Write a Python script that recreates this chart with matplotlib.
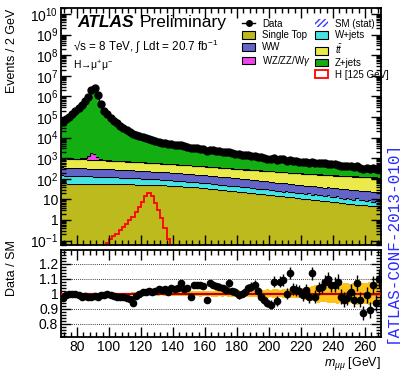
import numpy as np
import matplotlib
matplotlib.use("Agg")
import matplotlib.pyplot as plt
from matplotlib.patches import Patch
from matplotlib.lines import Line2D
from matplotlib.ticker import FixedLocator, MultipleLocator, LogLocator, NullFormatter, FixedFormatter

plt.rcParams['font.family'] = ['Liberation Sans', 'DejaVu Sans']
plt.rcParams['mathtext.fontset'] = 'custom'
plt.rcParams['mathtext.rm'] = 'Liberation Sans'
plt.rcParams['mathtext.it'] = 'Liberation Sans:italic'
plt.rcParams['mathtext.bf'] = 'Liberation Sans:bold'

# 2 GeV bins from 70 to 270 GeV
edges = np.arange(70, 272, 2)
centers = 0.5 * (edges[:-1] + edges[1:])

# background estimates per bin (events / 2 GeV), stacked bottom -> top
single_top = [60, 60, 59, 59, 59, 58, 58, 58, 57, 57, 57, 56, 56, 56, 55,
              55, 55, 54, 54, 54, 53, 53, 53, 52, 52, 51, 51, 51, 50, 50,
              50, 49, 48, 47, 46, 45, 44, 43, 42, 41, 40, 39, 38, 37, 36,
              35, 33.7, 32.5, 31.3, 30.1, 29, 28, 27, 26, 25, 24, 23.2, 22.3, 21.5, 20.7,
              20, 19.2, 18.5, 17.7, 17, 16.4, 15.8, 15.2, 14.6, 14, 13.5, 12.9, 12.4, 11.9, 11.5,
              11, 10.6, 10.2, 9.8, 9.4, 9.0, 8.6, 8.3, 8.0, 7.7, 7.4, 7.1, 6.8, 6.5, 6.3,
              6, 5.8, 5.6, 5.5, 5.3, 5.2, 5.0, 4.8, 4.7, 4.5]
wjets = [86, 84, 85, 81, 80, 79, 77, 76, 74, 73, 71, 70, 68, 67, 66,
         65, 63, 64, 60, 59, 58, 56, 55, 53, 52, 51, 49, 48, 46, 46,
         45, 43, 42, 40, 41, 37, 36, 35, 33, 32, 31, 30, 29, 28, 28,
         27, 26, 24, 25, 22, 21, 22, 20, 19, 18, 19, 17, 16, 17, 16,
         16, 14, 15, 13, 14, 12, 13, 11, 12, 10, 11, 9.5, 11, 9, 10,
         9, 8, 9.5, 7, 8, 6.5, 8, 6, 7.5, 6, 5, 7, 5.5, 4.5, 6,
         5, 4, 5.5, 3.5, 4, 3, 4.5, 2.5, 3.5, 2.5]
ww = [209, 206, 203, 200, 197, 194, 191, 188, 185, 182, 179, 177, 175, 172, 171,
      170, 166, 163, 160, 157, 154, 151, 148, 145, 142, 139, 136, 133, 130, 127,
      125, 122, 119, 117, 114, 112, 109, 107, 104, 102, 100, 97, 95, 92, 90,
      88, 85, 82, 80, 77, 75, 72, 70, 68, 66, 63, 61, 59, 57, 55,
      54, 51, 49, 47, 45, 43, 41, 40, 38, 36, 35, 33, 32, 30, 29,
      28, 27, 26.5, 26, 25, 24.5, 24, 23, 22.5, 22, 21.5, 21, 20, 19.5, 19,
      19, 18.5, 18, 17.5, 17, 16.5, 16, 15.5, 15.5, 15]
ttbar = [645, 631, 618, 605, 592, 580, 568, 556, 544, 532, 521, 510, 499, 489, 479,
         470, 460, 450, 441, 432, 422, 413, 404, 396, 387, 379, 371, 363, 356, 348,
         340, 333, 326, 318, 311, 305, 298, 291, 285, 279, 273, 267, 261, 256, 250,
         240, 235, 230, 225, 220, 215, 211, 207, 202, 198, 194, 190, 186, 182, 178,
         175, 172, 169, 166, 163, 160, 157, 154, 151, 148, 145, 142, 140, 137, 134,
         132, 129, 127, 125, 122, 120, 118, 116, 114, 112, 110, 108, 106, 104, 102,
         100, 99, 98, 97, 96, 95, 94, 93, 91, 90]
diboson = [20, 22, 25, 30, 40, 50, 90, 200, 450, 900, 800, 350, 130, 60, 35,
           28, 26, 25, 24, 23, 22, 21, 20, 19, 18, 17, 17, 16, 16, 15,
           15, 14, 14, 13, 13, 12, 12, 12, 11, 11, 11, 10, 10, 10, 9.5,
           9.5, 9, 9, 8.5, 8.5, 8, 8, 8, 7.5, 7.5, 7, 7, 7, 6.5, 6.5,
           6.5, 6, 6, 6, 5.5, 5.5, 5.5, 5, 5, 5, 5, 4.5, 4.5, 4.5, 4.5,
           4, 4, 4, 4, 4, 3.5, 3.5, 3.5, 3.5, 3.5, 3, 3, 3, 3, 3,
           3, 3, 2.5, 2.5, 2.5, 2.5, 2.5, 2.5, 2, 2]
zjets = [59000, 79000, 104000, 139000, 189000, 269000, 399000, 579000, 949000, 1998000,
         2598000, 1199000, 449000, 209000, 134200,
         91200, 67200, 49240, 37260, 28780, 22790, 18510, 15320, 12935, 11050,
         9560, 8376, 7390, 6600, 5964,
         5425, 5079, 4761, 4455, 4165, 3899, 3651, 3412, 3195, 2985, 2785, 2607, 2437, 2277, 2166,
         2060, 1961, 1862, 1770, 1682, 1602, 1519, 1443, 1372, 1300, 1233, 1172, 1115, 1056, 1004,
         948, 903, 852, 810, 765, 728, 688, 655, 619, 587, 555, 528, 507, 493, 475,
         459, 444, 427, 413, 399, 386, 371, 359, 344, 334, 323, 310, 301, 290, 279,
         269, 260, 248, 240, 230, 222, 212, 205, 196, 190]
higgs = [0, 0, 0, 0, 0, 0, 0, 0, 0, 0, 0, 0, 0, 0,
         0.08, 0.12, 0.16, 0.22, 0.32, 0.45, 0.65, 0.95, 1.4, 2.4, 4.2,
         7.5, 14, 21, 15, 7, 2.9, 1.2, 0.4, 0.12, 0.05,
         0, 0, 0, 0, 0, 0, 0, 0, 0, 0, 0, 0, 0, 0, 0,
         0, 0, 0, 0, 0, 0, 0, 0, 0, 0, 0, 0, 0, 0, 0,
         0, 0, 0, 0, 0, 0, 0, 0, 0, 0, 0, 0, 0, 0, 0,
         0, 0, 0, 0, 0, 0, 0, 0, 0, 0, 0, 0, 0, 0, 0,
         0, 0, 0, 0, 0]

# data / SM
ratio_vals = [0.97, 0.99, 1.00, 1.00, 1.00, 0.99, 0.98, 0.985, 0.98, 0.98,
              0.985, 0.98, 0.99, 0.99, 1.00, 0.99, 0.985, 0.98, 0.975, 0.975,
              0.97, 0.965, 0.94, 0.985, 1.00, 1.01, 1.01, 1.02, 1.01, 1.02,
              1.03, 1.025, 1.03, 1.01, 1.035, 1.03, 1.04, 1.07, 1.03, 1.035,
              0.98, 1.06, 1.055, 1.06, 1.05, 0.96, 1.07, 1.06, 1.05, 1.045,
              1.035, 1.025, 1.07, 1.015, 1.01, 0.99, 1.00, 1.01, 1.035, 1.045,
              1.06, 1.015, 0.98, 0.96, 0.94, 0.925, 1.08, 0.95, 1.08, 1.09,
              1.00, 1.135, 1.03, 1.025, 1.015, 0.99, 1.025, 0.98, 1.135, 0.98,
              1.035, 1.045, 1.08, 1.095, 1.06, 1.06, 1.08, 0.98, 0.96, 0.97,
              1.01, 0.96, 1.07, 0.96, 0.87, 0.99, 0.89, 1.06, 0.935, 1.10]
# relative MC stat uncertainty of the SM prediction
sm_err = [0.004, 0.004, 0.003, 0.003, 0.003, 0.002, 0.002, 0.002, 0.001, 0.001,
          0.001, 0.001, 0.002, 0.002, 0.003, 0.003, 0.004, 0.004, 0.005, 0.005,
          0.006, 0.006, 0.007, 0.007, 0.008,
          0.008, 0.009, 0.009, 0.010, 0.012, 0.014, 0.012, 0.015, 0.013, 0.016,
          0.015, 0.014, 0.016, 0.018, 0.015, 0.017, 0.016, 0.018, 0.02, 0.017,
          0.019, 0.018, 0.02, 0.022, 0.019,
          0.02, 0.018, 0.022, 0.02, 0.021, 0.024, 0.02, 0.023, 0.022, 0.025,
          0.024, 0.022, 0.026, 0.025, 0.028, 0.024, 0.027, 0.03, 0.026, 0.029,
          0.031, 0.028, 0.03, 0.033, 0.03,
          0.035, 0.04, 0.045, 0.05, 0.055, 0.06, 0.055, 0.058, 0.062, 0.06,
          0.065, 0.07, 0.062, 0.068, 0.072, 0.066, 0.07, 0.075, 0.068, 0.072,
          0.07, 0.075, 0.068, 0.072, 0.07]

stack = [(single_top, '#BDBA1E', 'Single Top'),
         (wjets, '#44E4E4', 'W+jets'),
         (ww, '#6464C8', 'WW'),
         (ttbar, '#EAEA4A', r'$t\bar{t}$'),
         (diboson, '#EE44EE', r'WZ/ZZ/W$\gamma$'),
         (zjets, '#12AE12', 'Z+jets')]

sm = np.zeros(len(centers))
for vals, _, _ in stack:
    sm = sm + np.array(vals, dtype=float)
ratio_vals = np.array(ratio_vals)
data = sm * ratio_vals
sm_err = np.array(sm_err)

fig = plt.figure(figsize=(4, 3.76), dpi=100)
ax = fig.add_axes([0.1525, 0.348, 0.8, 0.631])
axr = fig.add_axes([0.1525, 0.1037, 0.8, 0.2314], sharex=ax)

# stacked histograms
bottom = np.full(len(centers), 1e-3)
for vals, col, lab in stack:
    top = bottom + np.array(vals, dtype=float)
    ax.stairs(top, edges, baseline=bottom, fill=True, color=col, lw=0)
    ax.stairs(top, edges, baseline=None, color='black', lw=0.8)
    bottom = top

ax.stairs(sm * (1 + sm_err), edges, baseline=sm * (1 - sm_err), fill=True,
          facecolor='none', edgecolor='#3a3aff', hatch='//////', lw=0)
ax.stairs(higgs, edges, baseline=None, color='red', lw=1.3)
ax.errorbar(centers, data, yerr=np.sqrt(data), fmt='o', color='black', ms=5,
            elinewidth=1, capsize=0, zorder=5)

ax.set_yscale('log')
ax.set_xlim(70, 270)
ax.set_ylim(0.06, 2e10)
ax.yaxis.set_major_locator(FixedLocator([10.0 ** k for k in range(-1, 11)]))
ylabs = [r'$10^{-1}$', '1', '10'] + [r'$10^{%d}$' % k for k in range(2, 11)]
ax.yaxis.set_major_formatter(FixedFormatter(ylabs))
ax.yaxis.set_minor_locator(LogLocator(base=10, subs=np.arange(2, 10), numticks=30))
ax.yaxis.set_minor_formatter(NullFormatter())
ax.set_ylabel('Events / 2 GeV', fontsize=9, loc='top')
ax.yaxis.set_label_coords(-0.135, 0.995)
plt.setp(ax.get_xticklabels(), visible=False)

# text
ax.text(0.05, 0.937, 'ATLAS', transform=ax.transAxes, fontsize=12.5,
        fontweight='bold', fontstyle='italic', va='center')
ax.text(0.247, 0.937, 'Preliminary', transform=ax.transAxes, fontsize=12.5, va='center')
ax.text(0.038, 0.84, '\u221As = 8 TeV, \u222B Ldt = 20.7 fb$^{-1}$',
        transform=ax.transAxes, fontsize=8.4, va='center')
ax.text(0.038, 0.755, 'H\u2192\u03bc$^{+}$\u03bc$^{-}$', transform=ax.transAxes,
        fontsize=7.5, va='center')

# legends
h_data = Line2D([], [], color='black', marker='o', ms=4, lw=1)
h_stat = Patch(facecolor='none', edgecolor='#3a3aff', hatch='//////', lw=0)
h_h = Patch(facecolor='white', edgecolor='red', lw=1.3)
patch = {lab: Patch(facecolor=col, edgecolor='black', lw=0.8) for _, col, lab in stack}
left_h = [h_data, patch['Single Top'], patch['WW'], patch[r'WZ/ZZ/W$\gamma$']]
left_l = ['Data', 'Single Top', 'WW', r'WZ/ZZ/W$\gamma$']
right_h = [h_stat, patch['W+jets'], patch[r'$t\bar{t}$'], patch['Z+jets'], h_h]
right_l = ['SM (stat)', 'W+jets', r'$t\bar{t}$', 'Z+jets', 'H [125 GeV]']
kw = dict(frameon=False, fontsize=7, handlelength=1.4, handleheight=0.85,
          labelspacing=0.18, borderpad=0, handletextpad=0.65, loc='upper left')
leg1 = ax.legend(left_h, left_l, bbox_to_anchor=(0.55, 0.975), **kw)
ax.add_artist(leg1)
ax.legend(right_h, right_l, bbox_to_anchor=(0.778, 0.975), **kw)

# ratio panel
axr.stairs(1 + sm_err, edges, baseline=1 - sm_err, fill=True, color='#FFC21A', lw=0)
axr.axhline(1.0, color='#B30000', lw=1.6, zorder=3)
for yv in [0.8, 0.9, 1.1, 1.2]:
    axr.axhline(yv, color='black', lw=0.6, ls=(0, (1, 1.5)), zorder=1)
axr.errorbar(centers, ratio_vals, yerr=np.sqrt(data) / sm, fmt='o', color='black',
             ms=4.5, elinewidth=1, capsize=0, zorder=5)
axr.set_ylim(0.71, 1.29)
axr.yaxis.set_major_locator(FixedLocator([0.8, 0.9, 1.0, 1.1, 1.2]))
axr.yaxis.set_major_formatter(FixedFormatter(['0.8', '0.9', '1', '1.1', '1.2']))
axr.yaxis.set_minor_locator(MultipleLocator(0.02))
axr.xaxis.set_major_locator(MultipleLocator(20))
axr.xaxis.set_minor_locator(MultipleLocator(4))
axr.set_ylabel('Data / SM', fontsize=9, loc='top')
axr.yaxis.set_label_coords(-0.135, 1.11)
axr.set_xlabel(r'$m_{\mu\mu}$ [GeV]', fontsize=9, loc='right', labelpad=1)

for a in (ax, axr):
    a.tick_params(which='both', direction='in', top=True, right=True, width=1)
    a.tick_params(which='major', length=7, labelsize=10, pad=2)
    a.tick_params(which='minor', length=3.5)
    for s in a.spines.values():
        s.set_linewidth(1.3)

fig.text(0.98, 0.356, '[ATLAS-CONF-2013-010]', rotation=90, va='center', ha='center',
         fontsize=11.5, color='#2b2bff', family='Liberation Mono')

fig.savefig('out.png', dpi=100)
